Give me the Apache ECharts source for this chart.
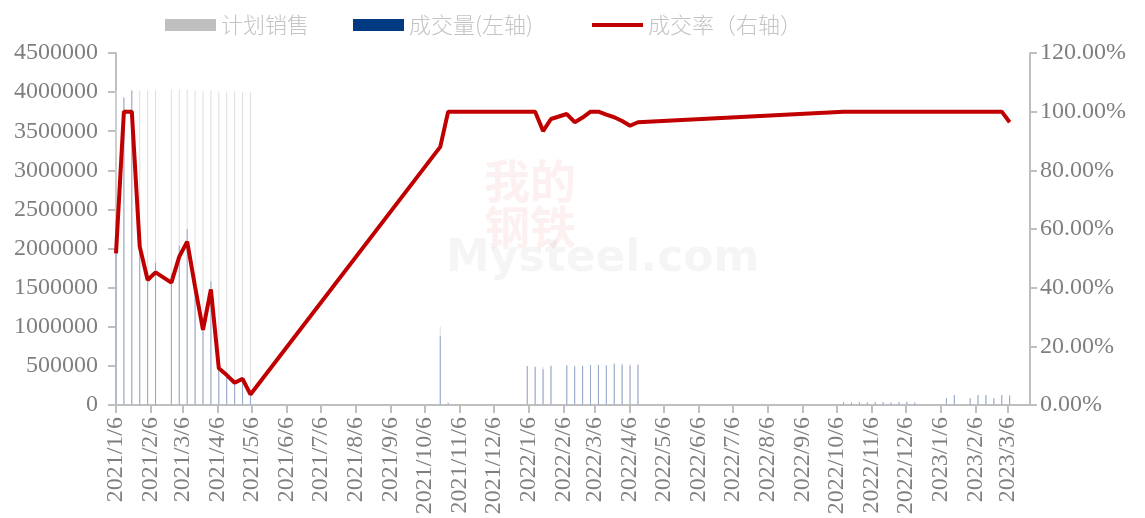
<!DOCTYPE html>
<html>
<head>
<meta charset="utf-8">
<script src="https://cdn.jsdelivr.net/npm/echarts@6/dist/echarts.min.js"></script>
<style>
html, body { margin: 0; padding: 0; background: #fff; }
#main { width: 1145px; height: 518px; }
</style>
</head>
<body>
<div id="main"></div>
<script>
// 周度数据（日期 / 计划销售 / 成交量 / 成交率）
var dates = [
	'2021/1/6', '2021/1/13', '2021/1/20', '2021/1/27', '2021/2/3', '2021/2/10', '2021/2/24',
	'2021/3/3', '2021/3/10', '2021/3/17', '2021/3/24', '2021/3/31', '2021/4/7', '2021/4/14',
	'2021/4/21', '2021/4/28', '2021/5/5', '2021/10/20', '2021/10/27',
	'2022/1/5', '2022/1/12', '2022/1/19', '2022/1/26', '2022/2/9', '2022/2/16', '2022/2/23',
	'2022/3/2', '2022/3/9', '2022/3/16', '2022/3/23', '2022/3/30', '2022/4/6', '2022/4/13',
	'2022/10/12', '2022/10/19', '2022/10/26', '2022/11/2', '2022/11/9', '2022/11/16',
	'2022/11/23', '2022/11/30', '2022/12/7', '2022/12/14',
	'2023/1/11', '2023/1/18', '2023/2/1', '2023/2/8', '2023/2/15', '2023/2/22', '2023/3/1', '2023/3/8'
];
var planArr = [
	4020000, 3930000, 4020000, 4020000, 4020000, 4020000, 4030000,
	4030000, 4030000, 4020000, 4010000, 4020000, 4010000, 4010000,
	4010000, 4000000, 4000000, 1000000, 30000,
	500000, 490000, 490000, 510000, 510000, 510000, 510000,
	510000, 510000, 510000, 535000, 530000, 530000, 530000,
	35000, 33000, 34000, 33000, 36000, 34000,
	33000, 34000, 40000, 33000,
	86000, 128000, 86000, 128000, 128000, 86000, 128000, 128000
];
var volArr = [
	2080000, 3930000, 4020000, 2170000, 1710000, 1820000, 1680000,
	2040000, 2250000, 1620000, 1030000, 1580000, 500000, 410000,
	305000, 356000, 144000, 880000, 30000,
	500000, 490000, 458000, 497000, 506000, 492000, 500000,
	510000, 510000, 505000, 527000, 516000, 505000, 511000,
	35000, 33000, 34000, 33000, 36000, 34000,
	33000, 34000, 40000, 33000,
	86000, 128000, 86000, 128000, 128000, 86000, 128000, 123000
];
var rateArr = [
	0.517, 1.0, 1.0, 0.54, 0.426, 0.452, 0.417,
	0.506, 0.557, 0.403, 0.256, 0.394, 0.125, 0.102,
	0.076, 0.089, 0.036, 0.88, 1.0,
	1.0, 1.0, 0.934, 0.975, 0.992, 0.964, 0.98,
	1.0, 1.0, 0.99, 0.981, 0.968, 0.952, 0.964,
	1.0, 1.0, 1.0, 1.0, 1.0, 1.0,
	1.0, 1.0, 1.0, 1.0,
	1.0, 1.0, 1.0, 1.0, 1.0, 1.0, 1.0, 0.964
];
// 横轴刻度标签
var tickLabels = [
	'2021/1/6', '2021/2/6', '2021/3/6', '2021/4/6', '2021/5/6', '2021/6/6', '2021/7/6',
	'2021/8/6', '2021/9/6', '2021/10/6', '2021/11/6', '2021/12/6', '2022/1/6', '2022/2/6',
	'2022/3/6', '2022/4/6', '2022/5/6', '2022/6/6', '2022/7/6', '2022/8/6', '2022/9/6',
	'2022/10/6', '2022/11/6', '2022/12/6', '2023/1/6', '2023/2/6', '2023/3/6'
];

function toTime(s)
{
	var p = s.split('/');
	return new Date(+p[0], +p[1] - 1, +p[2]).getTime();
}

var planData = [], volData = [], rateData = [];
for (var i = 0; i < dates.length; i++)
{
	var t = toTime(dates[i]);
	planData.push([t, planArr[i]]);
	volData.push([t, volArr[i]]);
	rateData.push([t, rateArr[i]]);
}
var tickTimes = tickLabels.map(toTime);

var labelFont = 'Liberation Serif';
var labelColor = '#7f7f7f';
var axisColor = '#bfbfbf';

// 图例：每项单独定位
function legendItem(left, item)
{
	return {
		top : 9,
		left : left,
		itemWidth : 51,
		itemHeight : 12,
		textStyle :
		{
			fontFamily : 'Noto Sans CJK SC',
			fontSize : 22,
			fontWeight : 300,
			color : '#c4c4c4'
		},
		data : [ item ]
	};
}

var myChart = echarts.init(document.getElementById('main'));

var option =
{
	animation : false,
	legend : [
		legendItem(160, { name : '计划销售', icon : 'rect', itemStyle : { color : '#bfbfbf' } }),
		legendItem(348, { name : '成交量(左轴)', icon : 'rect', itemStyle : { color : '#003a80' } }),
		legendItem(587, { name : '成交率（右轴）', icon : 'path://M0,0h51v4h-51z', itemStyle : { color : '#c00000' } })
	],
	graphic : [
	{
		type : 'text',
		left : 484,
		top : 158,
		silent : true,
		style : { text : '我的\n钢铁', font : 'bold 46px "Noto Sans CJK SC"', fill : 'rgba(200,0,0,0.06)', lineHeight : 46 }
	},
	{
		type : 'text',
		left : 446,
		top : 238,
		silent : true,
		style : { text : 'Mysteel.com', font : 'bold 44px "DejaVu Sans"', fill : 'rgba(0,0,0,0.04)' }
	} ],
	grid :
	{
		left : 116,
		right : 115,
		top : 53,
		bottom : 113
	},
	xAxis : [
	{
		type : 'value',
		min : toTime('2021/1/6'),
		max : toTime('2023/3/26'),
		scale : true,
		splitLine : { show : false },
		axisLine : { lineStyle : { color : axisColor, width : 2 } },
		axisTick :
		{
			show : true,
			length : 8,
			customValues : tickTimes,
			lineStyle : { color : axisColor, width : 2 }
		},
		axisLabel :
		{
			rotate : 90,
			margin : 12,
			customValues : tickTimes,
			fontFamily : labelFont,
			fontSize : 24,
			color : labelColor,
			formatter : function (v)
			{
				var d = new Date(v);
				return d.getFullYear() + '/' + (d.getMonth() + 1) + '/' + d.getDate();
			}
		}
	} ],
	yAxis : [
	{
		type : 'value',
		min : 0,
		max : 4500000,
		interval : 500000,
		splitLine : { show : false },
		axisLine : { show : true, lineStyle : { color : axisColor, width : 2 } },
		axisTick : { show : true, length : 8, lineStyle : { color : axisColor, width : 2 } },
		axisLabel :
		{
			margin : 18,
			fontFamily : labelFont,
			fontSize : 24,
			color : labelColor,
			formatter : function (v)
			{
				return String(v);
			}
		}
	},
	{
		type : 'value',
		min : 0,
		max : 1.2,
		interval : 0.2,
		position : 'right',
		splitLine : { show : false },
		axisLine : { show : true, lineStyle : { color : axisColor, width : 2 } },
		axisTick : { show : true, length : 7, lineStyle : { color : axisColor, width : 2 } },
		axisLabel :
		{
			margin : 10,
			fontFamily : labelFont,
			fontSize : 24,
			color : labelColor,
			formatter : function (v)
			{
				return (v * 100).toFixed(2) + '%';
			}
		}
	} ],
	series : [
	{
		name : '计划销售',
		type : 'bar',
		barWidth : 1,
		barGap : '-100%',
		itemStyle : { color : '#dedede' },
		data : planData
	},
	{
		name : '成交量(左轴)',
		type : 'bar',
		barWidth : 1,
		itemStyle : { color : '#93a6cb' },
		data : volData
	},
	{
		name : '成交率（右轴）',
		type : 'line',
		yAxisIndex : 1,
		symbol : 'none',
		showSymbol : false,
		lineStyle : { color : '#c00000', width : 4 },
		itemStyle : { color : '#c00000' },
		data : rateData
	} ]
};

myChart.setOption(option);
</script>
</body>
</html>
